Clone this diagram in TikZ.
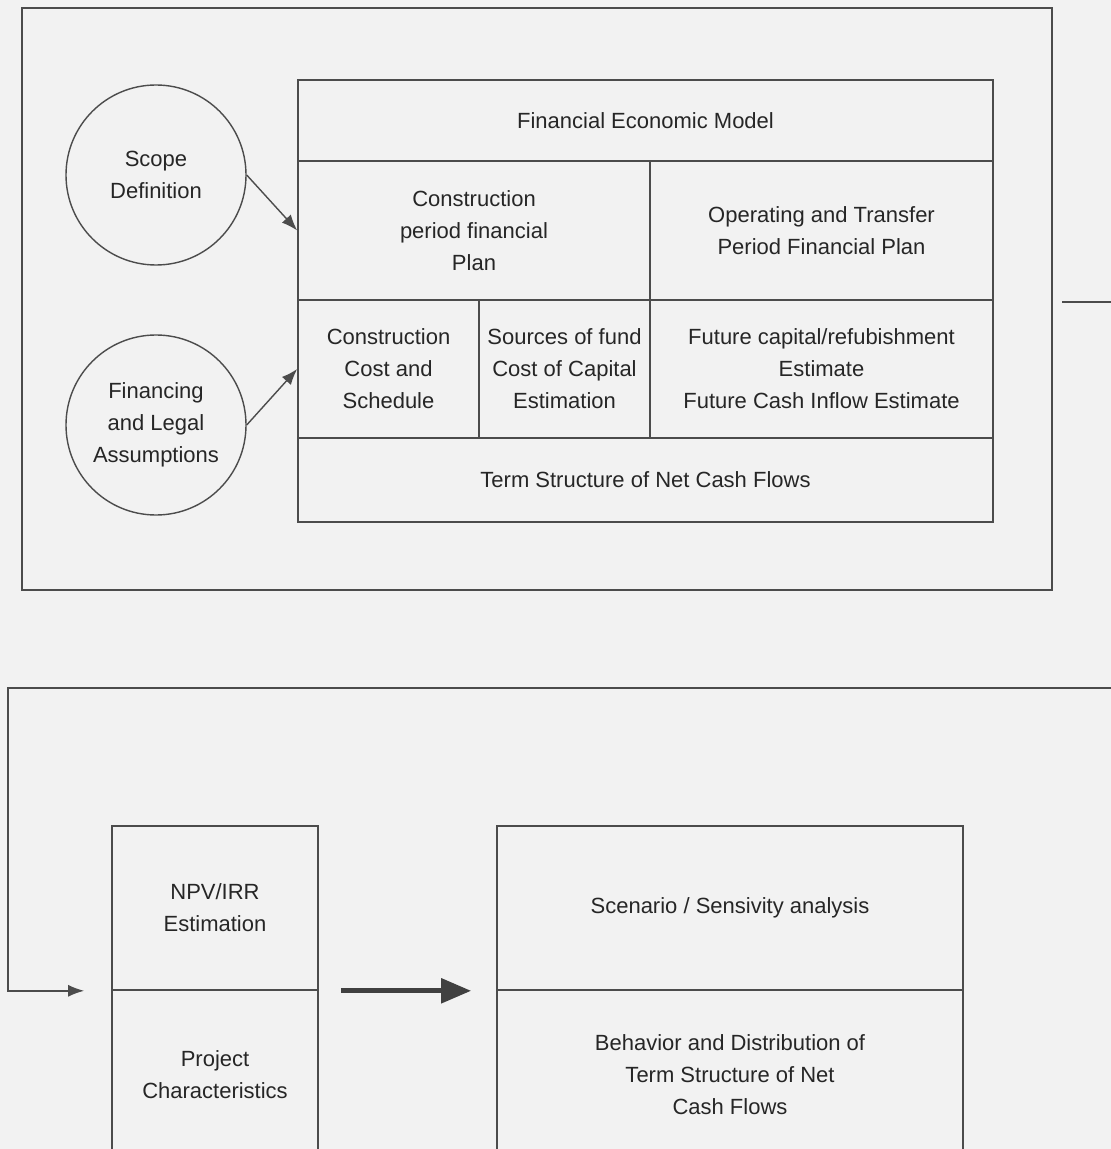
\documentclass[tikz,border=0pt]{standalone}
\usepackage{fontspec}
\setmainfont{Liberation Sans}
\usepackage{tikz}
\usetikzlibrary{shapes,arrows.meta,positioning}
\def\pxsize{0.5pt}
\definecolor{linecol}{gray}{0.3}
\definecolor{textcol}{gray}{0.15}
\definecolor{papercol}{gray}{0.95}

\begin{document}
\begin{tikzpicture}[x=\pxsize, y=-\pxsize, font=\fontsize{11}{16}\selectfont]
    \tikzstyle{cell}=[rectangle, draw=linecol, line width=0.8pt, inner sep=0pt, align=center, text=textcol]
    \tikzstyle{bubble}=[circle, draw=linecol, line width=0.7pt, minimum size=180*\pxsize, inner sep=0pt, align=center, text=textcol]
    \tikzstyle{link}=[draw=linecol, line width=0.7pt, -{Latex[length=8pt,width=6pt]}]
    \tikzstyle{bigarrow}=[draw=black!75, line width=2.6pt, -{Triangle[length=15pt,width=12pt]}]

    % Page, cut off at the edges
    \useasboundingbox (0,0) rectangle (1111,1149);
    \clip (0,0) rectangle (1111,1149);
    \fill[papercol] (0,0) rectangle (1111,1149);

    % Draw the outer frame
    \node[cell, minimum width=1030*\pxsize, minimum height=582*\pxsize] (frame) at (537,299) {};

    % Draw the input bubbles
    \node[bubble] (scope) at (156,175) {Scope\\Definition};
    \node[bubble] (finance) at (156,425) {Financing\\and Legal\\Assumptions};

    % Draw the model cells
    \node[cell, minimum width=695*\pxsize, minimum height=81*\pxsize] (title) at (645.5,120.5) {Financial Economic Model};
    \node[cell, minimum width=352*\pxsize, minimum height=139*\pxsize] (cplan) at (474,230.5) {Construction\\period financial\\Plan};
    \node[cell, minimum width=343*\pxsize, minimum height=139*\pxsize] (oplan) at (821.5,230.5) {Operating and Transfer\\Period Financial Plan};
    \node[cell, minimum width=181*\pxsize, minimum height=138*\pxsize] (cost) at (388.5,369) {Construction\\Cost and\\Schedule};
    \node[cell, minimum width=171*\pxsize, minimum height=138*\pxsize] (funds) at (564.5,369) {Sources of fund\\Cost of Capital\\Estimation};
    \node[cell, minimum width=343*\pxsize, minimum height=138*\pxsize] (future) at (821.5,369) {Future capital/refubishment\\Estimate\\Future Cash Inflow Estimate};
    \node[cell, minimum width=695*\pxsize, minimum height=84*\pxsize] (netcf) at (645.5,480) {Term Structure of Net Cash Flows};

    % Draw the evaluation cells
    \node[cell, minimum width=206*\pxsize, minimum height=164*\pxsize] (npv) at (215,908) {NPV/IRR\\Estimation};
    \node[cell, minimum width=206*\pxsize, minimum height=170*\pxsize] (proj) at (215,1075) {Project\\Characteristics};
    \node[cell, minimum width=466*\pxsize, minimum height=164*\pxsize] (scen) at (730,908) {Scenario / Sensivity analysis};
    \node[cell, minimum width=466*\pxsize, minimum height=170*\pxsize] (behav) at (730,1075) {Behavior and Distribution of\\Term Structure of Net\\Cash Flows};

    % Connect the bubbles with the model
    \draw[link] (scope.east) -- (cplan.west);
    \draw[link] (finance.east) -- (cost.west);

    % Lines running off the page
    \coordinate (exitstart) at (1062,302);
    \coordinate (exitend) at (1120,302);
    \draw[draw=linecol, line width=0.8pt] (exitstart) -- (exitend);
    \coordinate (loopin) at (1120,688);
    \coordinate (loopturn) at (8,688);
    \draw[link, line width=0.8pt, shorten >=13.5pt] (loopin) -- (loopturn) |- (npv.south west);

    % Big arrow between the lower boxes
    \draw[bigarrow, shorten <=11pt, shorten >=12.5pt] (npv.south east) -- (scen.south west);

\end{tikzpicture}
\end{document}
